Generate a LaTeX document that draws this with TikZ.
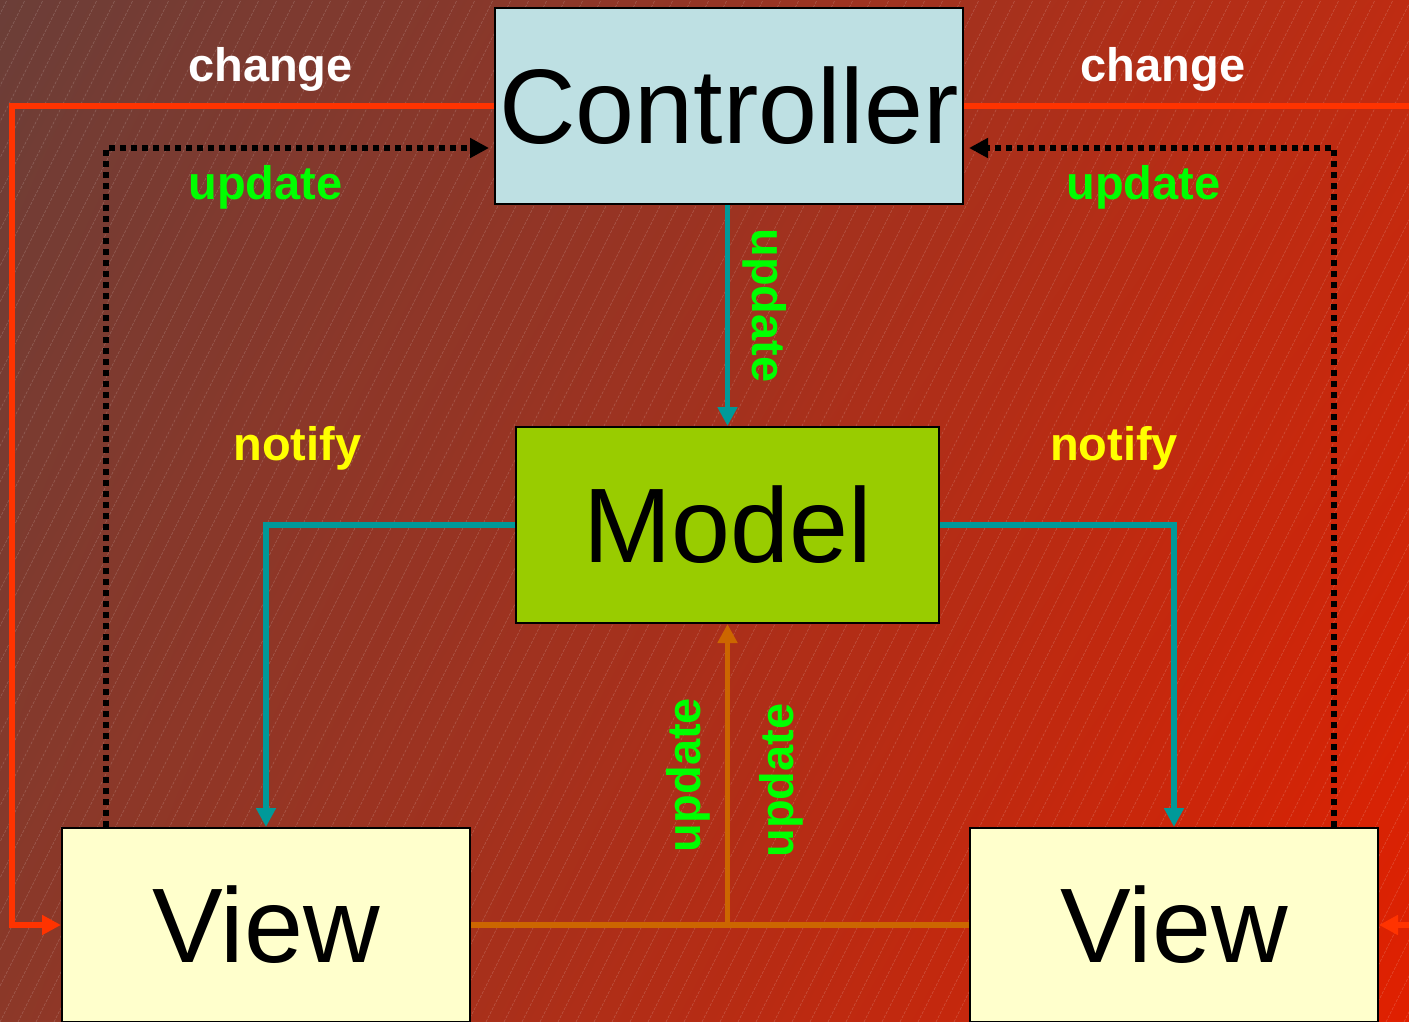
\documentclass[tikz,border=0pt]{standalone}
\usepackage{fontspec}
\setmainfont{Liberation Sans}
\usetikzlibrary{arrows.meta,calc,shadings}
\definecolor{bgTL}{HTML}{6B3E38}
\definecolor{bgTR}{HTML}{BE2C12}
\definecolor{bgBL}{HTML}{8C3828}
\definecolor{bgBR}{HTML}{E02000}
\definecolor{ctrlfill}{HTML}{BEE0E3}
\definecolor{modelfill}{HTML}{99CC00}
\definecolor{viewfill}{HTML}{FFFFCC}
\definecolor{chgred}{HTML}{FF3300}
\definecolor{teal}{HTML}{009999}
\definecolor{orng}{HTML}{CC6600}
\definecolor{lgreen}{HTML}{00FF00}
\definecolor{lyellow}{HTML}{FFFF00}
\tikzset{
  box/.style={draw=black, line width=2pt, inner sep=0pt, font=\fontsize{106}{110}\selectfont},
  lbl/.style={font=\fontsize{47}{50}\selectfont\bfseries, inner sep=0pt},
  tipT/.style={-{Triangle[length=19pt,width=19pt]}},
  chg/.style={draw=chgred, line width=5.5pt, tipT},
  upd/.style={draw=black, line width=6pt, dash pattern=on 6pt off 5pt, tipT},
  ntf/.style={draw=teal, line width=5.5pt, tipT},
  ora/.style={draw=orng, line width=5.5pt},
  hatch/.style={draw=white, opacity=0.2, line width=0.6pt, dash pattern=on 3pt off 1.5pt}
}
\begin{document}
\begin{tikzpicture}[x=1pt,y=-1pt]
\useasboundingbox (0,0) rectangle (1409,1022);
\begin{scope}
\clip (0,0) rectangle (1409,1022);
\shade[upper left=bgTL, upper right=bgTR, lower left=bgBL, lower right=bgBR] (0,0) rectangle (1409,1022);
\foreach \i in {-30,...,80} {
  \draw[hatch] (\i*18,1022) -- ++(511,-1022);
}
% nodes
\node[box, fill=ctrlfill, minimum width=468pt, minimum height=196pt] (ctrl) at (729,106) {Controller};
\node[box, fill=modelfill, minimum width=423pt, minimum height=196pt] (model) at (727.5,525) {Model};
\node[box, fill=viewfill, minimum width=408pt, minimum height=194pt] (viewL) at (266,925) {View};
\node[box, fill=viewfill, minimum width=408pt, minimum height=194pt] (viewR) at (1174,925) {View};
\coordinate (offL) at (12,106);
\coordinate (offR) at (1440,106);
% change (red)
\draw[chg] (ctrl.west) -- (offL) |- (viewL.west);
\draw[chg] (ctrl.east) -- (offR) |- (viewR.east);
% update (dotted)
\draw[upd] ([xshift=45pt]viewL.north west) |- ($(ctrl.west)+(-5,42)$);
\draw[upd] ([xshift=-45pt]viewR.north east) |- ($(ctrl.east)+(5,42)$);
% controller -> model
\draw[ntf] (ctrl.south -| model.north) -- (model.north);
% notify
\draw[ntf] (model.west) -| (viewL.north);
\draw[ntf] (model.east) -| (viewR.north);
% views -> model
\coordinate (junc) at (viewL.east -| model.south);
\draw[ora] (viewL.east) -- (viewR.west);
\draw[ora, tipT] (junc) -- (model.south);
% labels
\node[lbl, text=white, anchor=base] (chL) at (270.5,82) {change};
\node[lbl, text=white, anchor=base] (chR) at (1163,82) {change};
\node[lbl, text=lgreen, anchor=base] (upL) at (265.5,200) {update};
\node[lbl, text=lgreen, anchor=base] (upR) at (1143.5,200) {update};
\node[lbl, text=lyellow, anchor=base] (nL) at (297.5,460) {notify};
\node[lbl, text=lyellow, anchor=base] (nR) at (1114,460) {notify};
\node[lbl, text=lgreen, anchor=base, rotate=-90] (upC) at (752,305.5) {update};
\node[lbl, text=lgreen, anchor=base, rotate=90] (upV1) at (700,775) {update};
\node[lbl, text=lgreen, anchor=base, rotate=90] (upV2) at (793,780.5) {update};
\end{scope}
\end{tikzpicture}
\end{document}
